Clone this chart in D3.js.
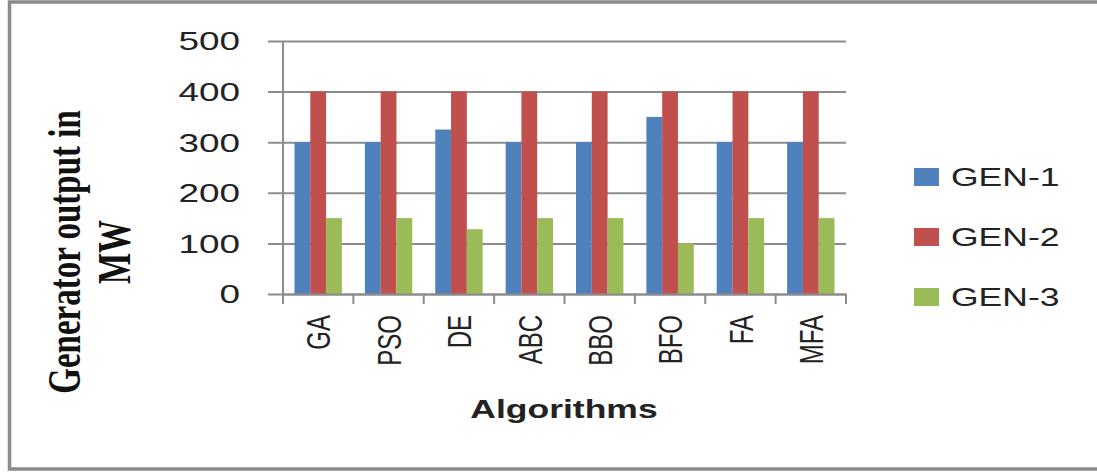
<!DOCTYPE html>
<html>
<head>
<meta charset="utf-8">
<script src="https://cdn.jsdelivr.net/npm/d3@7"></script>
<style>
  html, body { margin: 0; padding: 0; background: #fff; }
  svg { display: block; }
</style>
</head>
<body>
<svg id="chart" width="1097" height="472"></svg>
<script>
// Generator dispatch per optimisation algorithm (MW)
const algorithms = ["GA", "PSO", "DE", "ABC", "BBO", "BFO", "FA", "MFA"];
const seriesNames = ["GEN-1", "GEN-2", "GEN-3"];
const gen1 = [300, 300, 325, 300, 300, 350, 300, 300];
const gen2 = [400, 400, 400, 400, 400, 400, 400, 400];
const gen3 = [150, 150, 128, 150, 150, 100, 150, 150];
const yTicks = [0, 100, 200, 300, 400, 500];
const colors = ["#4F81BD", "#C0504D", "#9BBB59"];

const seriesValues = [gen1, gen2, gen3];
const rows = algorithms.map((a, i) => ({
  name: a,
  values: seriesNames.map((s, j) => ({ series: s, idx: j, value: seriesValues[j][i] }))
}));

const svg = d3.select("#chart");
const SX = 1.42; // horizontal stretch applied to all lettering

// outer frame
svg.append("rect")
  .attr("x", 9.5).attr("y", 2).attr("width", 1100).attr("height", 467)
  .attr("fill", "none").attr("stroke", "#8a8a8a").attr("stroke-width", 3.5);

const plot = { left: 283, right: 846, top: 41, bottom: 294 };

const x = d3.scaleBand().domain(algorithms).range([plot.left, plot.right]).paddingInner(0).paddingOuter(0);
const inner = d3.scaleBand().domain(seriesNames)
  .range([11.5, x.bandwidth() - 11.5]).padding(0);
const y = d3.scaleLinear().domain([0, 500]).range([plot.bottom, plot.top]);

// horizontal gridlines with small ticks to the left of the axis
const yAxis = d3.axisLeft(y).tickValues(yTicks)
  .tickSize(-(plot.right - plot.left)).tickSizeOuter(0).tickFormat("");
const gy = svg.append("g").attr("transform", `translate(${plot.left},0)`).call(yAxis);
gy.select(".domain").remove();
gy.selectAll(".tick line")
  .attr("x1", -15)
  .attr("stroke", "#8c8c8c").attr("stroke-width", 2);

// y tick labels
svg.append("g").selectAll("text").data(yTicks).join("text")
  .attr("transform", d => `translate(240,${y(d)}) scale(${SX},1)`)
  .attr("text-anchor", "end")
  .attr("dy", "0.36em")
  .attr("font-family", "Liberation Sans, Arial, sans-serif")
  .attr("font-size", 26)
  .attr("fill", "#222")
  .text(d => d);

// bars
const groups = svg.append("g").selectAll("g").data(rows).join("g")
  .attr("transform", d => `translate(${x(d.name)},0)`);
groups.selectAll("rect").data(d => d.values).join("rect")
  .attr("x", d => inner(d.series))
  .attr("width", inner.bandwidth())
  .attr("y", d => y(d.value))
  .attr("height", d => y(0) - y(d.value))
  .attr("fill", d => colors[d.idx]);

// vertical axis line
svg.append("line")
  .attr("x1", plot.left).attr("x2", plot.left)
  .attr("y1", plot.top).attr("y2", plot.bottom)
  .attr("stroke", "#8c8c8c").attr("stroke-width", 2);

// category axis with tick marks between groups
const xAxis = d3.axisBottom(x).tickSize(0).tickFormat("");
const gx = svg.append("g").attr("transform", `translate(0,${plot.bottom})`).call(xAxis);
gx.select(".domain").attr("stroke", "#8c8c8c").attr("stroke-width", 2);
gx.selectAll(".tick").remove();
const bounds = algorithms.map(a => x(a)).concat([plot.right]);
svg.append("g").selectAll("line").data(bounds).join("line")
  .attr("x1", d => d).attr("x2", d => d)
  .attr("y1", plot.bottom).attr("y2", plot.bottom + 10)
  .attr("stroke", "#8c8c8c").attr("stroke-width", 2);

// rotated category labels
svg.append("g").selectAll("text").data(algorithms).join("text")
  .attr("transform", d => `translate(${x(d) + x.bandwidth() / 2},315) rotate(-90) scale(1,${SX})`)
  .attr("text-anchor", "end")
  .attr("dy", "0.36em")
  .attr("font-family", "Liberation Sans, Arial, sans-serif")
  .attr("font-size", 24)
  .attr("fill", "#222")
  .text(d => d);

// x axis title
svg.append("text")
  .attr("transform", `translate(564,418) scale(${SX},1)`)
  .attr("text-anchor", "middle")
  .attr("font-family", "Liberation Sans, Arial, sans-serif")
  .attr("font-weight", "bold")
  .attr("font-size", 25)
  .attr("fill", "#222")
  .text("Algorithms");

// y axis title (two lines)
const yTitle = svg.append("text")
  .attr("transform", `translate(80,252) rotate(-90) scale(1,${SX})`)
  .attr("text-anchor", "middle")
  .attr("font-family", "Liberation Serif, Times New Roman, serif")
  .attr("font-weight", "bold")
  .attr("font-size", 33)
  .attr("fill", "#111");
yTitle.append("tspan").attr("x", 0).attr("y", 0).text("Generator output in");
yTitle.append("tspan").attr("x", 0).attr("y", 35.5).text("MW");

// legend
const legend = svg.append("g").selectAll("g").data(seriesNames).join("g")
  .attr("transform", (d, i) => `translate(914,${177 + i * 60})`);
legend.append("rect")
  .attr("x", 0).attr("y", -9).attr("width", 25).attr("height", 18)
  .attr("fill", (d, i) => colors[i]);
legend.append("text")
  .attr("transform", `translate(37,0) scale(${SX},1)`)
  .attr("dy", "0.36em")
  .attr("font-family", "Liberation Sans, Arial, sans-serif")
  .attr("font-size", 25)
  .attr("fill", "#222")
  .text(d => d);
</script>
</body>
</html>
